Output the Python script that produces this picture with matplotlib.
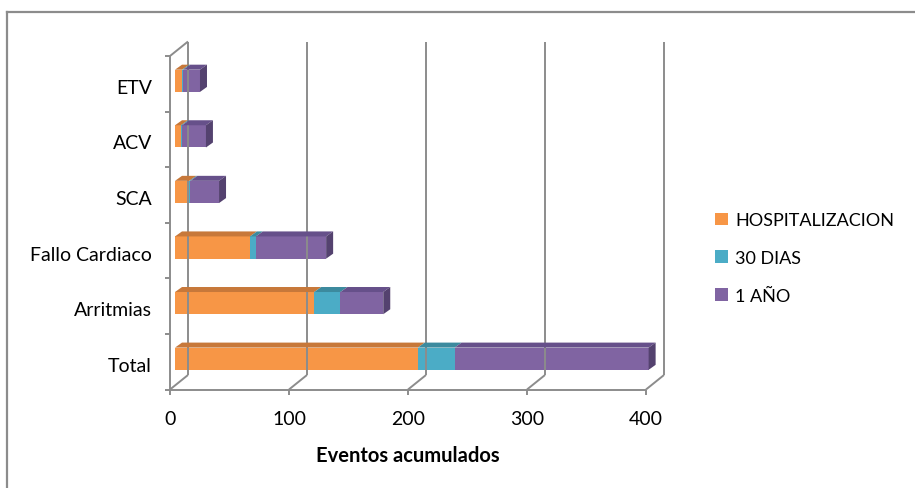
import matplotlib
matplotlib.use("Agg")
import matplotlib.pyplot as plt
from matplotlib.patches import Polygon
from matplotlib.lines import Line2D
from matplotlib.transforms import IdentityTransform, offset_copy, ScaledTranslation

plt.rcParams['font.family'] = ['Lato', 'DejaVu Sans']

# ---- data ----
categories = ["Total", "Arritmias", "Fallo Cardiaco", "SCA", "ACV", "ETV"]
hospitalizacion = [204, 117, 63, 12, 5, 6]
dias_30 = [31, 22, 5, 1, 1, 1]
anio_1 = [163, 36, 59, 24, 20, 14]
series_names = ["HOSPITALIZACION", "30 DIAS", "1 AÑO"]
x_ticks = [0, 100, 200, 300, 400]

front_colors = ["#F79646", "#4BACC6", "#8064A2"]
top_colors = ["#C7783A", "#3C8A9E", "#66508A"]
side_colors = ["#B86A30", "#357C8E", "#54426F"]
grid_color = "#8C8C8C"

W, H, DPI = 915, 489, 100
fig = plt.figure(figsize=(W / DPI, H / DPI), dpi=DPI)

# plot area (front plane of the 3D box)
ax_l, ax_r, ax_t, ax_b = 170, 646, 57, 390.5
ax = fig.add_axes([ax_l / W, (H - ax_b) / H, (ax_r - ax_l) / W, (ax_b - ax_t) / H])
ax.set_xlim(0, 400)
ax.set_ylim(-0.5, len(categories) - 0.5)
ax.patch.set_visible(False)
for s in ax.spines.values():
    s.set_visible(False)

# depth of the box (pixels, display coordinates: x right, y up)
DX, DY = 18, 14.5
# depth of each bar and offset of its front face
BDX, BDY = 7, 5
OFF_X, OFF_Y = 5, 3

fig.canvas.draw()
T = ax.transData

def px(x, y):
    return T.transform((x, y))

ident = IdentityTransform()

def line(xs, ys, z=1, lw=1.4, color=grid_color):
    fig.add_artist(Line2D(xs, ys, color=color, lw=lw, transform=ident, zorder=z,
                          solid_capstyle='butt'))

y_lo, y_hi = -0.5, len(categories) - 0.5
# back-wall gridlines and floor diagonals
for v in x_ticks:
    fx, fy_b = px(v, y_lo)
    _, fy_t = px(v, y_hi)
    line([fx + DX, fx + DX], [fy_b + DY, fy_t + DY])
    line([fx, fx + DX], [fy_b, fy_b + DY])
# left wall top edge
fx, fy_t = px(0, y_hi)
line([fx, fx + DX], [fy_t, fy_t + DY])
# front axes lines
x0, yb = px(0, y_lo)
x4, _ = px(400, y_lo)
line([x0, x4], [yb, yb])
line([x0, x0], [yb, fy_t])
# tick marks
for v in x_ticks:
    tx, ty = px(v, y_lo)
    line([tx, tx], [ty, ty - 5])
for i in range(len(categories) + 1):
    tx, ty = px(0, i - 0.5)
    line([tx - 5, tx], [ty, ty])

# ---- bars: front faces through barh, depth faces from the same values ----
bar_h = 0.4
bar_tr = offset_copy(T, fig=fig, x=OFF_X, y=OFF_Y, units='dots')
lefts = [0] * len(categories)
series = [hospitalizacion, dias_30, anio_1]
for si, vals in enumerate(series):
    ax.barh(range(len(categories)), vals, left=lefts, height=bar_h,
            color=front_colors[si], transform=bar_tr, zorder=3,
            label=series_names[si], clip_on=False)
    for ci, v in enumerate(vals):
        a = lefts[ci]
        b = a + v
        xa, yt = px(a, ci + bar_h / 2)
        xb, _ = px(b, ci + bar_h / 2)
        xa += OFF_X; xb += OFF_X; yt += OFF_Y
        top = Polygon([(xa, yt), (xb, yt), (xb + BDX, yt + BDY), (xa + BDX, yt + BDY)],
                      closed=True, facecolor=top_colors[si], edgecolor='none',
                      transform=ident, zorder=4)
        fig.add_artist(top)
    lefts = [l + v for l, v in zip(lefts, vals)]

# right-hand end faces of the last segment
for ci, total in enumerate(lefts):
    xb, yt = px(total, ci + bar_h / 2)
    _, ybm = px(total, ci - bar_h / 2)
    xb += OFF_X; yt += OFF_Y; ybm += OFF_Y
    side = Polygon([(xb, ybm), (xb, yt), (xb + BDX, yt + BDY), (xb + BDX, ybm + BDY)],
                   closed=True, facecolor=side_colors[2], edgecolor='none',
                   transform=ident, zorder=4)
    fig.add_artist(side)

# ---- ticks and labels ----
ax.set_xticks(x_ticks)
ax.set_xticklabels([str(v) for v in x_ticks], fontsize=14)
ax.set_yticks(range(len(categories)))
ax.set_yticklabels(categories, fontsize=14)
ax.tick_params(axis='both', length=0)
ax.tick_params(axis='x', pad=15)
ax.tick_params(axis='y', pad=13)
shift_down = ScaledTranslation(0, -2 / DPI, fig.dpi_scale_trans)
for lbl in ax.get_yticklabels():
    lbl.set_transform(lbl.get_transform() + shift_down)
ax.set_xlabel("Eventos acumulados", fontsize=14.5, fontweight='bold', labelpad=13)

# legend
leg = fig.legend(loc='upper left', bbox_to_anchor=(708 / W, 1 - 206 / H),
                 frameon=False, fontsize=13, handlelength=0.7, handleheight=0.7,
                 handletextpad=0.4, labelspacing=1.2, borderaxespad=0)

# outer frame (top and left edges)
fig.add_artist(Line2D([6.5, W], [H - 13, H - 13], color="#8C8C8C", lw=1.6, transform=ident))
fig.add_artist(Line2D([6.5, 6.5], [0, H - 13], color="#8C8C8C", lw=1.6, transform=ident))

fig.savefig("out.png", dpi=DPI)
